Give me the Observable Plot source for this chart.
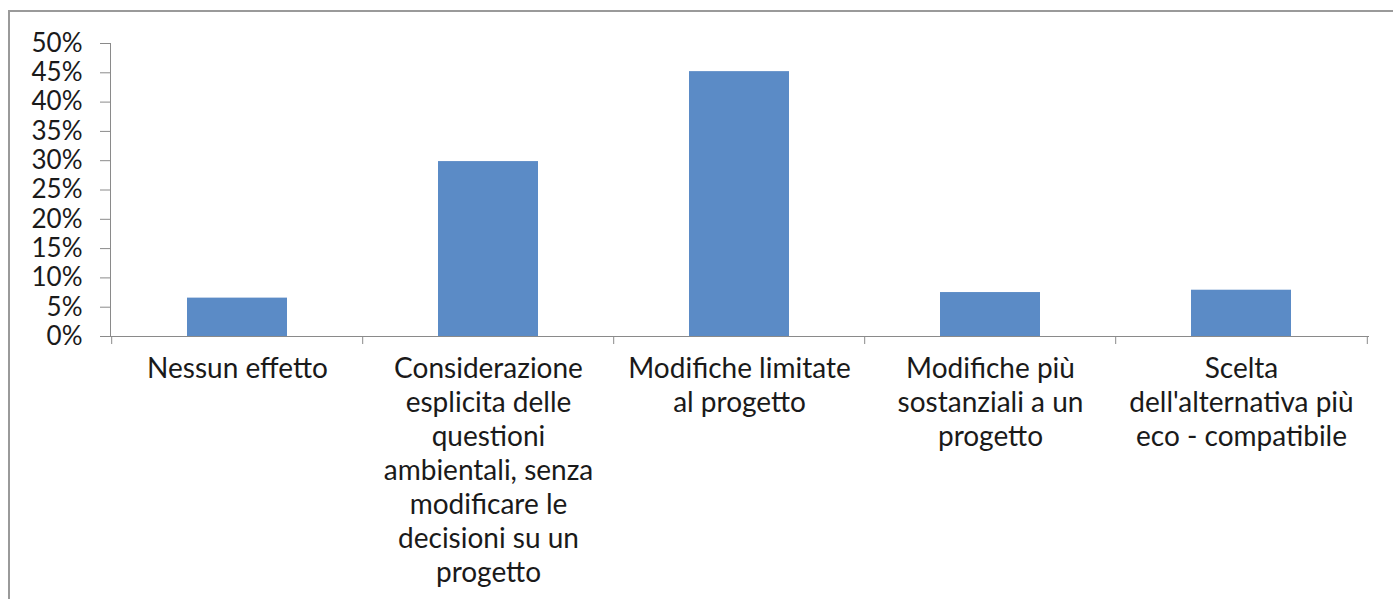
<!DOCTYPE html>
<html>
<head>
<meta charset="utf-8">
<script src="https://cdn.jsdelivr.net/npm/d3@7"></script>
<script src="https://cdn.jsdelivr.net/npm/@observablehq/plot@0.6"></script>
<style>
  html, body { margin: 0; padding: 0; background: #fff; overflow: hidden; }
  #wrap { position: relative; width: 1393px; height: 599px; }
  #border { position: absolute; left: 8px; top: 10px; width: 1500px; height: 700px; border: 2px solid #9a9a9a; box-sizing: border-box; }
  #chart { position: absolute; left: 0; top: 0; }
  #chart svg { font-family: Lato, "Open Sans", sans-serif; }
</style>
</head>
<body>
<div id="wrap"><div id="border"></div><div id="chart"></div></div>
<script>
const categories = [
  "Nessun effetto",
  "Considerazione esplicita delle questioni ambientali, senza modificare le decisioni su un progetto",
  "Modifiche limitate al progetto",
  "Modifiche più sostanziali a un progetto",
  "Scelta dell'alternativa più eco - compatibile"
];
const labels = [
  "Nessun effetto",
  "Considerazione\nesplicita delle\nquestioni\nambientali, senza\nmodificare le\ndecisioni su un\nprogetto",
  "Modifiche limitate\nal progetto",
  "Modifiche più\nsostanziali a un\nprogetto",
  "Scelta\ndell'alternativa più\neco - compatibile"
];
const values = [0.0655, 0.2985, 0.452, 0.075, 0.079];
const yTicks = [0, 0.05, 0.10, 0.15, 0.20, 0.25, 0.30, 0.35, 0.40, 0.45, 0.50];

const data = categories.map((c, i) => ({category: c, label: labels[i], value: values[i]}));

const W = 1393, H = 599, mL = 110, mR = 25, mT = 43, mB = 263;
const step = (W - mL - mR) / categories.length;
const fsY = 26, fsX = 28;

const chart = Plot.plot({
  width: W, height: H,
  marginLeft: mL, marginRight: mR, marginTop: mT, marginBottom: mB,
  style: {fontSize: fsY + "px", color: "#1a1a1a", background: "transparent", overflow: "visible"},
  x: {domain: categories, paddingInner: 0.6, paddingOuter: 0.3, axis: null},
  y: {domain: [0, 0.5], axis: null},
  marks: [
    Plot.barY(data, {x: "category", y: "value", fill: "#5b8bc6"}),
    Plot.frame({anchor: "left", stroke: "#8a8a8a", strokeOpacity: 1}),
    Plot.frame({anchor: "bottom", stroke: "#8a8a8a", strokeOpacity: 1}),
    Plot.axisY({ticks: yTicks, tickFormat: d3.format(".0%"), tickSize: 10, tickPadding: 18, stroke: "#8a8a8a", fill: "#1a1a1a", fontSize: fsY, label: null}),
    Plot.ruleX(categories, {x: d => d, dx: -step / 2, y1: 0, y2: -0.0137, stroke: "#8a8a8a"}),
    Plot.ruleX(categories.slice(-1), {x: d => d, dx: step / 2, y1: 0, y2: -0.0137, stroke: "#8a8a8a"}),
    Plot.text(data, {x: "category", y: 0, text: "label", lineAnchor: "top", dy: 17, lineHeight: 34 / fsX, fontSize: fsX, fill: "#1a1a1a"})
  ]
});
document.getElementById("chart").appendChild(chart);
</script>
</body>
</html>
